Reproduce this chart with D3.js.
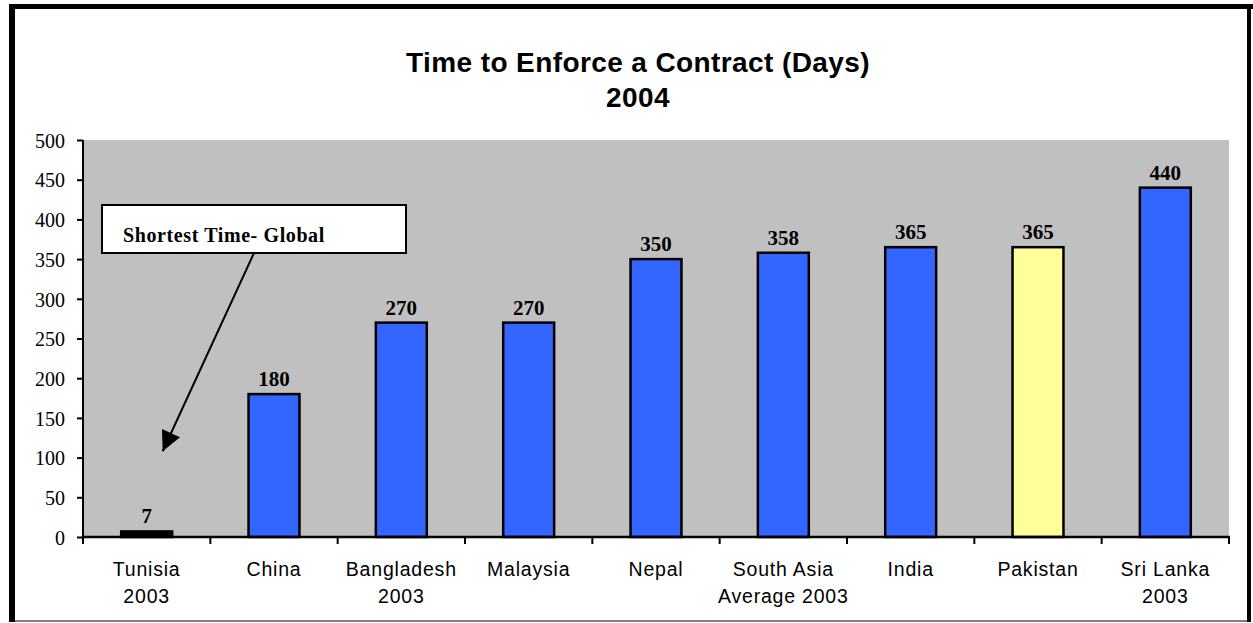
<!DOCTYPE html>
<html>
<head>
<meta charset="utf-8">
<script src="https://cdn.jsdelivr.net/npm/d3@7"></script>
<style>
  body { margin: 0; background: #fff; }
  svg { display: block; }
  .ytick text { font-family: "Liberation Serif", "Times New Roman", serif; font-size: 20px; fill: #000; }
  .xlab { font-family: "Liberation Sans", Arial, sans-serif; font-size: 19.5px; fill: #000; letter-spacing: 0.8px; }
  .vlab { font-family: "Liberation Serif", "Times New Roman", serif; font-size: 21px; font-weight: bold; fill: #000; }
  .title { font-family: "Liberation Sans", Arial, sans-serif; font-size: 28px; font-weight: bold; fill: #000; letter-spacing: 0.4px; }
</style>
</head>
<body>
<svg id="chart" width="1253" height="623"></svg>
<script>
// chart data
var categories = ["Tunisia\n2003", "China", "Bangladesh\n2003", "Malaysia", "Nepal", "South Asia\nAverage 2003", "India", "Pakistan", "Sri Lanka\n2003"]
var days = [7, 180, 270, 270, 350, 358, 365, 365, 440]
var yTicks = [0, 50, 100, 150, 200, 250, 300, 350, 400, 450, 500]
var titleLines = ["Time to Enforce a Contract (Days)", "2004"]
var note = "Shortest Time- Global"

var svg = d3.select("#chart")
var m = {left: 83, right: 1229, top: 140, bottom: 537}

// outer frame
svg.append("line").attr("x1", 13).attr("x2", 1248).attr("y1", 621).attr("y2", 621).attr("stroke", "#808080").attr("stroke-width", 2)
svg.append("rect").attr("x", 9).attr("y", 4).attr("width", 6).attr("height", 618).attr("fill", "#000")
svg.append("rect").attr("x", 9).attr("y", 4).attr("width", 1244).attr("height", 5).attr("fill", "#000")
svg.append("rect").attr("x", 1247).attr("y", 4).attr("width", 4).attr("height", 618).attr("fill", "#000")

// title
svg.selectAll(".title").data(titleLines).enter().append("text")
	.attr("class", "title")
	.attr("x", 638)
	.attr("y", function(d, i){ return 72 + i*35 })
	.attr("text-anchor", "middle")
	.text(function(d){ return d })

var x = d3.scaleBand().domain(categories).range([m.left, m.right]).paddingInner(0).paddingOuter(0)
var y = d3.scaleLinear().domain([0, 500]).range([m.bottom, m.top])

// plot background
svg.append("rect").attr("x", m.left).attr("y", m.top).attr("width", m.right - m.left).attr("height", m.bottom - m.top).attr("fill", "#C0C0C0")

// bars
var bw = x.bandwidth() * 0.4
function barColor(d, i){
	if (categories[i] == "Pakistan") return "#FFFF99"
	if (i == 0) return "#000"
	return "#3366FF"
}
svg.selectAll(".bar").data(days).enter().append("rect")
	.attr("class", "bar")
	.attr("x", function(d, i){ return x(categories[i]) + x.bandwidth()/2 - bw/2 })
	.attr("y", function(d){ return y(d) })
	.attr("width", bw)
	.attr("height", function(d){ return y(0) - y(d) })
	.attr("fill", barColor)
	.attr("stroke", "#000")
	.attr("stroke-width", 2.5)

// value labels
svg.selectAll(".vlab").data(days).enter().append("text")
	.attr("class", "vlab")
	.attr("x", function(d, i){ return x(categories[i]) + x.bandwidth()/2 })
	.attr("y", function(d){ return y(d) - 8 })
	.attr("text-anchor", "middle")
	.text(function(d){ return d })

// y axis
var yAxis = svg.append("g").attr("class", "ytick").attr("transform", "translate(" + m.left + ",0)")
	.call(d3.axisLeft(y).tickValues(yTicks).tickSize(6).tickPadding(12))
yAxis.select(".domain").attr("stroke", "#000").attr("stroke-width", 2).attr("d", "M0," + m.top + "V" + m.bottom)
yAxis.selectAll(".tick line").attr("stroke", "#000").attr("stroke-width", 2)
yAxis.selectAll("text").attr("dy", "0.36em")

// x axis
var xb = svg.append("g").attr("transform", "translate(0," + m.bottom + ")")
xb.append("line").attr("x1", m.left - 1).attr("x2", m.right + 1).attr("stroke", "#000").attr("stroke-width", 2.5)
var edges = categories.map(function(c){ return x(c) }).concat([m.right])
xb.selectAll(".xt").data(edges).enter().append("line")
	.attr("x1", function(d){ return d }).attr("x2", function(d){ return d })
	.attr("y1", 0).attr("y2", 7)
	.attr("stroke", "#000").attr("stroke-width", 2)

var labs = svg.selectAll(".xlab").data(categories).enter().append("text")
	.attr("class", "xlab")
	.attr("text-anchor", "middle")
labs.each(function(d){
	var t = d3.select(this)
	var cx = x(d) + x.bandwidth()/2
	d.split("\n").forEach(function(line, i){
		t.append("tspan").attr("x", cx).attr("y", 576 + i*27).text(line)
	})
})

// annotation box + arrow
svg.append("rect").attr("x", 102).attr("y", 205).attr("width", 304).attr("height", 48)
	.attr("fill", "#fff").attr("stroke", "#000").attr("stroke-width", 2)
svg.append("text").attr("class", "vlab").attr("x", 123).attr("y", 242)
	.style("font-size", "20px").style("letter-spacing", "0.6px").text(note)

svg.append("defs").append("marker")
	.attr("id", "ah").attr("viewBox", "0 0 10 10").attr("refX", 10).attr("refY", 5)
	.attr("markerWidth", 22).attr("markerHeight", 20).attr("markerUnits", "userSpaceOnUse")
	.attr("orient", "auto")
	.append("path").attr("d", "M0,0L10,5L0,10z").attr("fill", "#000")
var tip = [x(categories[0]) + x.bandwidth()/2 + 16, y(108)]
svg.append("line").attr("x1", 254).attr("y1", 253).attr("x2", tip[0]).attr("y2", tip[1])
	.attr("stroke", "#000").attr("stroke-width", 2).attr("marker-end", "url(#ah)")
</script>
</body>
</html>
